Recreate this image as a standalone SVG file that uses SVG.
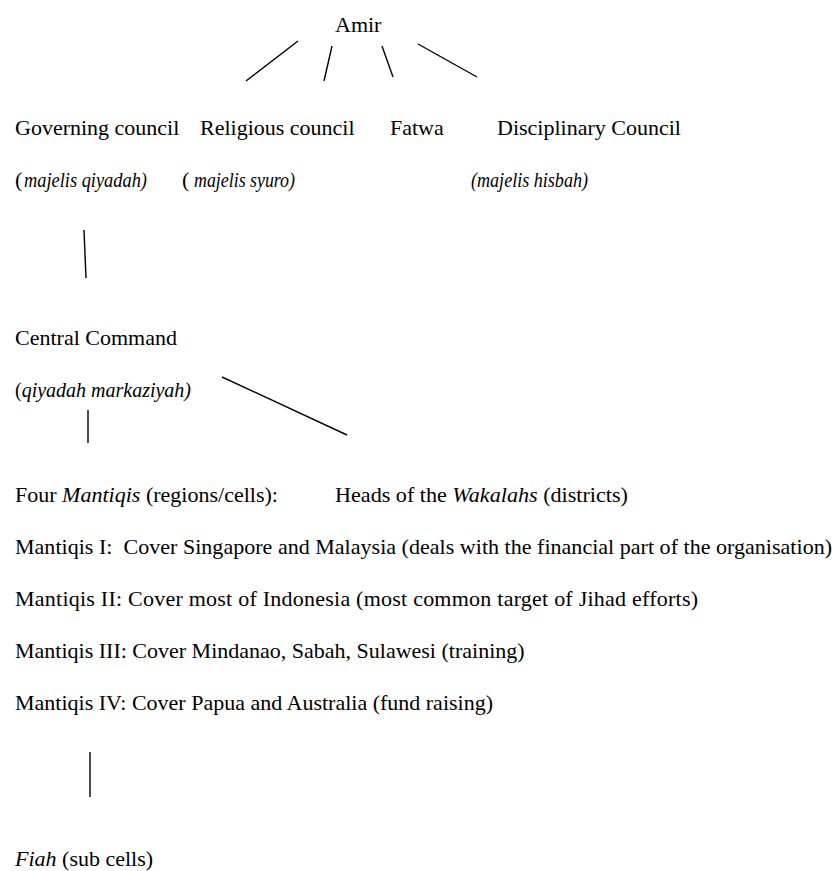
<svg xmlns="http://www.w3.org/2000/svg" width="838" height="871" viewBox="0 0 838 871">
<style>
text{font-family:"Liberation Serif","Times New Roman",serif;font-size:22px;fill:#000;white-space:pre}
.i{font-style:italic}
.c{stroke:#000;stroke-width:1.4;fill:none;stroke-linecap:butt}
</style>
<rect width="838" height="871" fill="#fff"/>
<g id="connectors">
<line class="c" x1="298" y1="41" x2="246" y2="81"/>
<line class="c" x1="332" y1="46" x2="324" y2="81"/>
<line class="c" x1="382" y1="46" x2="393" y2="77"/>
<line class="c" x1="418" y1="44" x2="477" y2="77"/>
<line class="c" x1="84" y1="230" x2="86" y2="278"/>
<line class="c" x1="88" y1="410" x2="88" y2="443"/>
<line class="c" x1="222" y1="377" x2="347" y2="435"/>
<line class="c" x1="90" y1="752" x2="90" y2="797"/>
</g>
<g id="amir">
<text x="335" y="32">Amir</text>
</g>
<g id="governing-council">
<text x="15" y="135">Governing council</text>
<text x="15" y="187">(</text>
<text class="i" x="24" y="187" textLength="123" lengthAdjust="spacingAndGlyphs">majelis qiyadah)</text>
</g>
<g id="religious-council">
<text x="200" y="135">Religious council</text>
<text x="182" y="187">(</text>
<text class="i" x="194" y="187" textLength="101" lengthAdjust="spacingAndGlyphs">majelis syuro)</text>
</g>
<g id="fatwa">
<text x="390" y="135">Fatwa</text>
</g>
<g id="disciplinary-council">
<text x="497" y="135">Disciplinary Council</text>
<text class="i" x="471" y="187" textLength="117" lengthAdjust="spacingAndGlyphs">(majelis hisbah)</text>
</g>
<g id="central-command">
<text x="15" y="345">Central Command</text>
<text x="15" y="397" textLength="176" lengthAdjust="spacingAndGlyphs">(<tspan class="i">qiyadah markaziyah)</tspan></text>
</g>
<g id="mantiqis">
<text x="15" y="502" textLength="263" lengthAdjust="spacingAndGlyphs">Four <tspan class="i">Mantiqis</tspan> (regions/cells):</text>
<text x="15" y="554" textLength="817" lengthAdjust="spacing">Mantiqis I:  Cover Singapore and Malaysia (deals with the financial part of the organisation)</text>
<text x="15" y="606" textLength="683" lengthAdjust="spacing">Mantiqis II: Cover most of Indonesia (most common target of Jihad efforts)</text>
<text x="15" y="658">Mantiqis III: Cover Mindanao, Sabah, Sulawesi (training)</text>
<text x="15" y="710">Mantiqis IV: Cover Papua and Australia (fund raising)</text>
</g>
<g id="wakalahs">
<text x="335" y="502" textLength="293" lengthAdjust="spacingAndGlyphs">Heads of the <tspan class="i">Wakalahs</tspan> (districts)</text>
</g>
<g id="fiah">
<text x="15" y="866"><tspan class="i">Fiah</tspan> (sub cells)</text>
</g>
</svg>
